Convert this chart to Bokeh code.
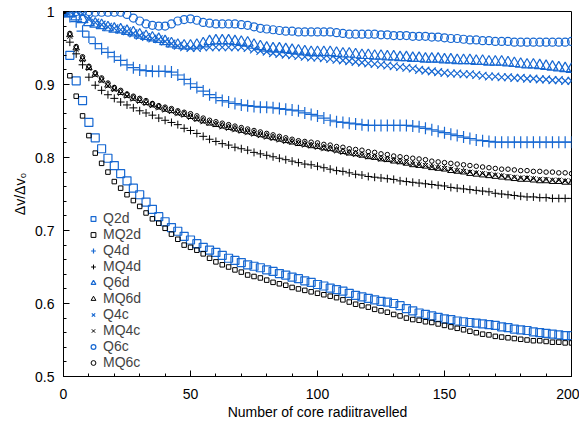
from bokeh.plotting import figure
from bokeh.models import Range1d, Legend, LegendItem, FixedTicker, CustomJSTickFormatter
from bokeh.embed import file_html
from bokeh.resources import INLINE

# distance travelled (number of core radii)
x_dist = [0, 2.5, 5, 7.5, 10, 12.5, 15, 17.5, 20, 22.5,
          25, 27.5, 30, 32.5, 35, 37.5, 40, 42.5, 45, 47.5,
          50, 52.5, 55, 57.5, 60, 62.5, 65, 67.5, 70, 72.5,
          75, 77.5, 80, 82.5, 85, 87.5, 90, 92.5, 95, 97.5,
          100, 102.5, 105, 107.5, 110, 112.5, 115, 117.5, 120, 122.5,
          125, 127.5, 130, 132.5, 135, 137.5, 140, 142.5, 145, 147.5,
          150, 152.5, 155, 157.5, 160, 162.5, 165, 167.5, 170, 172.5,
          175, 177.5, 180, 182.5, 185, 187.5, 190, 192.5, 195, 197.5,
          200]

Q2d = [1.000, 0.940, 0.905, 0.878, 0.848, 0.827, 0.812, 0.799, 0.789, 0.778,
       0.768, 0.758, 0.749, 0.739, 0.729, 0.719, 0.712, 0.704, 0.699, 0.692,
       0.687, 0.682, 0.677, 0.673, 0.670, 0.666, 0.662, 0.659, 0.656, 0.653,
       0.651, 0.649, 0.646, 0.644, 0.641, 0.639, 0.636, 0.634, 0.631, 0.629,
       0.626, 0.624, 0.621, 0.619, 0.617, 0.614, 0.611, 0.609, 0.607, 0.605,
       0.603, 0.602, 0.600, 0.597, 0.593, 0.590, 0.587, 0.585, 0.583, 0.581,
       0.579, 0.578, 0.576, 0.575, 0.574, 0.573, 0.572, 0.571, 0.570, 0.568,
       0.567, 0.565, 0.564, 0.563, 0.561, 0.560, 0.559, 0.558, 0.557, 0.556,
       0.556]

MQ2d = [1.000, 0.912, 0.884, 0.857, 0.830, 0.806, 0.792, 0.780, 0.767, 0.758,
        0.749, 0.741, 0.733, 0.724, 0.716, 0.710, 0.703, 0.695, 0.688, 0.680,
        0.677, 0.673, 0.668, 0.662, 0.657, 0.653, 0.650, 0.646, 0.643, 0.639,
        0.637, 0.635, 0.632, 0.629, 0.627, 0.625, 0.622, 0.620, 0.618, 0.616,
        0.614, 0.612, 0.610, 0.608, 0.605, 0.602, 0.599, 0.597, 0.595, 0.592,
        0.590, 0.588, 0.585, 0.583, 0.580, 0.578, 0.577, 0.575, 0.574, 0.572,
        0.570, 0.568, 0.566, 0.564, 0.562, 0.560, 0.558, 0.557, 0.555, 0.554,
        0.553, 0.552, 0.551, 0.550, 0.549, 0.549, 0.548, 0.547, 0.547, 0.546,
        0.546]

Q4d = [1.000, 0.993, 0.986, 0.973, 0.965, 0.956, 0.949, 0.944, 0.938, 0.933,
       0.927, 0.923, 0.920, 0.919, 0.918, 0.918, 0.918, 0.917, 0.913, 0.907,
       0.901, 0.896, 0.891, 0.886, 0.882, 0.878, 0.876, 0.874, 0.872, 0.871,
       0.870, 0.869, 0.869, 0.868, 0.867, 0.866, 0.865, 0.864, 0.861, 0.859,
       0.857, 0.854, 0.851, 0.849, 0.848, 0.847, 0.846, 0.845, 0.844, 0.844,
       0.844, 0.844, 0.844, 0.844, 0.844, 0.843, 0.842, 0.840, 0.838, 0.836,
       0.834, 0.832, 0.830, 0.828, 0.826, 0.824, 0.823, 0.822, 0.821, 0.821,
       0.821, 0.821, 0.821, 0.821, 0.821, 0.821, 0.821, 0.821, 0.821, 0.821,
       0.821]

MQ4d = [1.000, 0.958, 0.942, 0.927, 0.910, 0.899, 0.892, 0.886, 0.881, 0.876,
        0.872, 0.868, 0.864, 0.861, 0.858, 0.854, 0.851, 0.848, 0.845, 0.840,
        0.837, 0.833, 0.829, 0.825, 0.822, 0.819, 0.817, 0.814, 0.812, 0.810,
        0.807, 0.805, 0.803, 0.801, 0.799, 0.797, 0.795, 0.793, 0.791, 0.790,
        0.788, 0.786, 0.784, 0.782, 0.781, 0.779, 0.777, 0.776, 0.774, 0.773,
        0.772, 0.771, 0.770, 0.768, 0.767, 0.766, 0.765, 0.764, 0.763, 0.762,
        0.761, 0.759, 0.758, 0.757, 0.756, 0.755, 0.754, 0.753, 0.751, 0.750,
        0.749, 0.748, 0.747, 0.746, 0.746, 0.745, 0.745, 0.744, 0.744, 0.744,
        0.744]

Q6d = [1.000, 0.997, 0.993, 0.989, 0.985, 0.983, 0.981, 0.978, 0.976, 0.975,
       0.973, 0.971, 0.968, 0.966, 0.964, 0.962, 0.959, 0.956, 0.954, 0.953,
       0.953, 0.954, 0.956, 0.959, 0.960, 0.960, 0.960, 0.959, 0.958, 0.957,
       0.954, 0.952, 0.950, 0.949, 0.949, 0.948, 0.947, 0.946, 0.945, 0.944,
       0.944, 0.944, 0.944, 0.943, 0.942, 0.942, 0.941, 0.940, 0.940, 0.939,
       0.939, 0.938, 0.938, 0.937, 0.937, 0.936, 0.936, 0.935, 0.935, 0.935,
       0.934, 0.934, 0.933, 0.933, 0.933, 0.932, 0.932, 0.931, 0.931, 0.931,
       0.930, 0.929, 0.928, 0.927, 0.927, 0.926, 0.925, 0.924, 0.923, 0.922,
       0.921]

MQ6d = [1.000, 0.968, 0.950, 0.935, 0.923, 0.914, 0.906, 0.899, 0.894, 0.889,
        0.885, 0.881, 0.878, 0.875, 0.872, 0.869, 0.866, 0.864, 0.861, 0.859,
        0.856, 0.853, 0.850, 0.847, 0.845, 0.843, 0.841, 0.839, 0.837, 0.835,
        0.833, 0.831, 0.829, 0.827, 0.825, 0.823, 0.821, 0.819, 0.818, 0.816,
        0.815, 0.813, 0.812, 0.810, 0.808, 0.806, 0.805, 0.803, 0.801, 0.800,
        0.798, 0.797, 0.795, 0.794, 0.792, 0.790, 0.789, 0.788, 0.786, 0.785,
        0.784, 0.782, 0.781, 0.780, 0.778, 0.777, 0.776, 0.775, 0.774, 0.773,
        0.772, 0.771, 0.770, 0.770, 0.769, 0.768, 0.768, 0.767, 0.767, 0.766,
        0.766]

Q4c = [1.000, 1.000, 1.000, 0.997, 0.989, 0.985, 0.982, 0.979, 0.977, 0.975,
       0.973, 0.970, 0.967, 0.965, 0.963, 0.962, 0.959, 0.956, 0.953, 0.951,
       0.950, 0.950, 0.951, 0.951, 0.951, 0.951, 0.951, 0.951, 0.951, 0.950,
       0.948, 0.946, 0.945, 0.943, 0.942, 0.941, 0.940, 0.939, 0.938, 0.937,
       0.937, 0.936, 0.935, 0.934, 0.933, 0.932, 0.931, 0.930, 0.929, 0.928,
       0.927, 0.926, 0.925, 0.924, 0.923, 0.922, 0.920, 0.919, 0.918, 0.917,
       0.916, 0.915, 0.915, 0.914, 0.914, 0.913, 0.912, 0.911, 0.911, 0.910,
       0.910, 0.909, 0.909, 0.908, 0.908, 0.907, 0.907, 0.906, 0.906, 0.905,
       0.905]

MQ4c = [1.000, 0.966, 0.948, 0.934, 0.922, 0.913, 0.905, 0.898, 0.893, 0.888,
        0.884, 0.880, 0.877, 0.874, 0.871, 0.868, 0.865, 0.863, 0.860, 0.858,
        0.855, 0.852, 0.849, 0.847, 0.845, 0.842, 0.840, 0.838, 0.836, 0.834,
        0.832, 0.830, 0.828, 0.826, 0.824, 0.822, 0.821, 0.819, 0.817, 0.816,
        0.814, 0.812, 0.811, 0.809, 0.807, 0.806, 0.804, 0.803, 0.801, 0.800,
        0.798, 0.797, 0.796, 0.794, 0.793, 0.791, 0.790, 0.789, 0.787, 0.786,
        0.785, 0.784, 0.782, 0.781, 0.780, 0.779, 0.778, 0.777, 0.776, 0.775,
        0.774, 0.773, 0.772, 0.772, 0.771, 0.770, 0.770, 0.769, 0.769, 0.768,
        0.768]

Q6c = [0.998, 0.999, 1.000, 1.000, 1.000, 0.999, 0.999, 0.999, 0.999, 0.999,
       0.996, 0.991, 0.987, 0.983, 0.981, 0.980, 0.980, 0.983, 0.987, 0.989,
       0.990, 0.988, 0.985, 0.984, 0.983, 0.983, 0.983, 0.983, 0.982, 0.981,
       0.979, 0.977, 0.976, 0.975, 0.974, 0.973, 0.973, 0.972, 0.972, 0.972,
       0.972, 0.972, 0.972, 0.971, 0.970, 0.969, 0.969, 0.969, 0.969, 0.969,
       0.968, 0.968, 0.967, 0.967, 0.967, 0.966, 0.966, 0.966, 0.965, 0.965,
       0.964, 0.963, 0.963, 0.962, 0.961, 0.961, 0.960, 0.960, 0.959, 0.959,
       0.959, 0.958, 0.958, 0.958, 0.958, 0.958, 0.958, 0.958, 0.958, 0.958,
       0.959]

MQ6c = [1.000, 0.970, 0.952, 0.938, 0.925, 0.916, 0.909, 0.902, 0.896, 0.892,
        0.887, 0.884, 0.881, 0.878, 0.874, 0.871, 0.869, 0.867, 0.864, 0.862,
        0.860, 0.857, 0.854, 0.851, 0.849, 0.847, 0.845, 0.843, 0.841, 0.839,
        0.837, 0.835, 0.833, 0.831, 0.829, 0.827, 0.825, 0.823, 0.822, 0.821,
        0.820, 0.818, 0.817, 0.815, 0.814, 0.812, 0.811, 0.810, 0.808, 0.807,
        0.805, 0.804, 0.802, 0.801, 0.800, 0.799, 0.798, 0.797, 0.795, 0.794,
        0.793, 0.792, 0.791, 0.790, 0.789, 0.788, 0.787, 0.786, 0.785, 0.784,
        0.784, 0.783, 0.782, 0.782, 0.781, 0.781, 0.780, 0.780, 0.779, 0.779,
        0.778]

x_ticks = [0, 50, 100, 150, 200]
y_ticks = [0.5, 0.6, 0.7, 0.8, 0.9, 1.0]

BLUE = "#1768d2"
BLACK = "#000000"
FONT = "Liberation Sans"

series = [
    ("Q2d", Q2d, "square", BLUE, 8, 1.2),
    ("MQ2d", MQ2d, "square", BLACK, 4.5, 1.0),
    ("Q4d", Q4d, "cross", BLUE, 12, 1.2),
    ("MQ4d", MQ4d, "cross", BLACK, 8, 1.0),
    ("Q6d", Q6d, "triangle", BLUE, 11, 1.2),
    ("MQ6d", MQ6d, "triangle", BLACK, 6.5, 1.0),
    ("Q4c", Q4c, "x", BLUE, 11, 1.2),
    ("MQ4c", MQ4c, "x", BLACK, 7, 1.0),
    ("Q6c", Q6c, "circle", BLUE, 8, 1.2),
    ("MQ6c", MQ6c, "circle", BLACK, 4.5, 1.0),
]

p = figure(width=579, height=428, output_backend="svg", toolbar_location=None,
           x_range=Range1d(0, 200), y_range=Range1d(0.5, 1.0),
           min_border_left=63, min_border_right=8, min_border_top=11, min_border_bottom=52)
p.background_fill_color = "white"
p.border_fill_color = "white"
p.outline_line_color = "black"
p.outline_line_width = 1
p.xgrid.visible = False
p.ygrid.visible = False

items = []
for name, vals, marker, color, size, lw in series:
    r = p.scatter(x_dist, vals, marker=marker, size=size, line_color=color,
                  fill_color=None, line_width=lw)
    items.append(LegendItem(label=name, renderers=[r]))

legend = Legend(items=items, location=(24, 6), orientation="vertical",
                border_line_color=None, background_fill_alpha=0,
                label_text_font=FONT, label_text_font_size="14px",
                label_text_line_height=0.9,
                label_height=13, glyph_height=13, glyph_width=12,
                label_standoff=4, spacing=0, padding=0, margin=0)
p.add_layout(legend, "center")

for ax in (p.xaxis[0], p.yaxis[0]):
    ax.axis_line_color = "black"
    ax.axis_line_width = 1
    ax.major_tick_in = 6
    ax.major_tick_out = 0
    ax.minor_tick_in = 3
    ax.minor_tick_out = 0
    ax.major_tick_line_color = "black"
    ax.minor_tick_line_color = "black"
    ax.major_label_text_font = FONT
    ax.major_label_text_font_size = "14px"
    ax.major_label_text_color = "black"
    ax.axis_label_text_font = FONT
    ax.axis_label_text_font_size = "14px"
    ax.axis_label_text_font_style = "normal"
    ax.axis_label_text_color = "black"

p.xaxis[0].ticker = FixedTicker(ticks=x_ticks, minor_ticks=list(range(0, 201, 10)))
p.yaxis[0].ticker = FixedTicker(ticks=y_ticks,
                                minor_ticks=[0.5 + 0.02 * i for i in range(26)])
p.yaxis[0].formatter = CustomJSTickFormatter(code="return (Math.round(tick*10)/10).toString();")
p.xaxis[0].axis_label = "Number of core radiitravelled"
p.yaxis[0].axis_label = "Δv/Δv₀"
p.xaxis[0].major_label_standoff = 12
p.xaxis[0].axis_label_standoff = 2
p.yaxis[0].major_label_standoff = 9
p.yaxis[0].axis_label_standoff = 4

open("out.html", "w").write(file_html(p, INLINE))
